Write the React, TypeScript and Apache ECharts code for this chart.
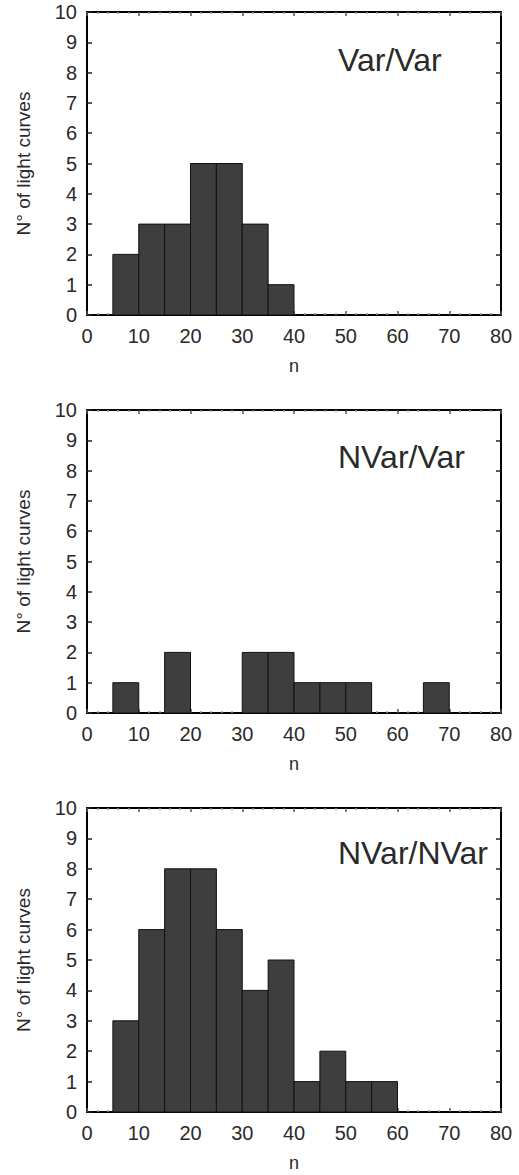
import React, { useEffect, useRef } from "react";
import * as echarts from "echarts";

const binStarts1 = [5, 10, 15, 20, 25, 30, 35];
const counts1 = [2, 3, 3, 5, 5, 3, 1];
const binStarts2 = [5, 15, 30, 35, 40, 45, 50, 65];
const counts2 = [1, 2, 2, 2, 1, 1, 1, 1];
const binStarts3 = [5, 10, 15, 20, 25, 30, 35, 40, 45, 50, 55];
const counts3 = [3, 6, 8, 8, 6, 4, 5, 1, 2, 1, 1];
const binWidth = 5;
const panelTitles = ["Var/Var", "NVar/Var", "NVar/NVar"];
const xTicks = [0, 10, 20, 30, 40, 50, 60, 70, 80];
const yTicks = [0, 1, 2, 3, 4, 5, 6, 7, 8, 9, 10];
const xName = "n";
const yName = "N° of light curves";

const FONT = "'Liberation Sans', Arial, sans-serif";

export default function App() {
  const ref = useRef<HTMLDivElement>(null);
  useEffect(() => {
    document.body.style.margin = "0";
    if (!ref.current) return;
    const chart = echarts.init(ref.current, undefined, { renderer: "svg" });
    const grids = [
      { left: 87, right: 18, top: 12, height: 303 },
      { left: 87, right: 18, top: 410, height: 303 },
      { left: 87, right: 18, top: 808, height: 304 },
    ];
    const titleY = [60, 457, 853];
    const datasets = [
      [binStarts1, counts1],
      [binStarts2, counts2],
      [binStarts3, counts3],
    ];
    const xAxes: any[] = [];
    const yAxes: any[] = [];
    const series: any[] = [];
    grids.forEach((g, i) => {
      xAxes.push({
        type: "value",
        gridIndex: i,
        position: "bottom",
        min: xTicks[0],
        max: xTicks[xTicks.length - 1],
        interval: 10,
        name: xName,
        nameLocation: "middle",
        nameGap: 42,
        nameTextStyle: { fontFamily: FONT, fontSize: 18, color: "#2a2a2a" },
        axisLine: { show: true, onZero: false, lineStyle: { color: "#000", width: 2 } },
        axisTick: { show: true, inside: true, length: 4, lineStyle: { color: "#555", width: 1.5 } },
        minorTick: { show: true, splitNumber: 5, length: 2, lineStyle: { color: "#999", width: 1.5 } },
        axisLabel: { show: true, margin: 11, fontFamily: FONT, fontSize: 20, color: "#2a2a2a" },
        splitLine: { show: false },
      });
      xAxes.push({
        type: "value",
        gridIndex: i,
        position: "top",
        min: xTicks[0],
        max: xTicks[xTicks.length - 1],
        interval: 10,
        axisLine: { show: true, onZero: false, lineStyle: { color: "#000", width: 2 } },
        axisTick: { show: true, inside: true, length: 4, lineStyle: { color: "#555", width: 1.5 } },
        minorTick: { show: true, splitNumber: 5, length: 2, lineStyle: { color: "#999", width: 1.5 } },
        axisLabel: { show: false },
        splitLine: { show: false },
      });
      yAxes.push({
        type: "value",
        gridIndex: i,
        position: "left",
        min: yTicks[0],
        max: yTicks[yTicks.length - 1],
        interval: 1,
        name: yName,
        nameLocation: "middle",
        nameGap: 54,
        nameRotate: 90,
        nameTextStyle: { fontFamily: FONT, fontSize: 19, color: "#2a2a2a" },
        axisLine: { show: true, onZero: false, lineStyle: { color: "#000", width: 2 } },
        axisTick: { show: true, inside: true, length: 5, lineStyle: { color: "#222", width: 1.5 } },
        axisLabel: { show: true, margin: 10, fontFamily: FONT, fontSize: 20, color: "#2a2a2a" },
        splitLine: { show: false },
      });
      yAxes.push({
        type: "value",
        gridIndex: i,
        position: "right",
        min: yTicks[0],
        max: yTicks[yTicks.length - 1],
        interval: 1,
        axisLine: { show: true, onZero: false, lineStyle: { color: "#000", width: 2 } },
        axisTick: { show: true, inside: true, length: 5, lineStyle: { color: "#222", width: 1.5 } },
        axisLabel: { show: false },
        splitLine: { show: false },
      });
      const [starts, counts] = datasets[i];
      series.push({
        type: "custom",
        xAxisIndex: i * 2,
        yAxisIndex: i * 2,
        encode: { x: [0, 1], y: 2 },
        data: starts.map((s, k) => [s, s + binWidth, counts[k]]),
        renderItem: (params: any, api: any) => {
          const p0 = api.coord([api.value(0), 0]);
          const p1 = api.coord([api.value(1), api.value(2)]);
          return {
            type: "rect",
            shape: { x: p0[0], y: p1[1], width: p1[0] - p0[0], height: p0[1] - p1[1] },
            style: { fill: "#3e3e3e", stroke: "#111", lineWidth: 1 },
          };
        },
      });
    });
    chart.setOption({
      animation: false,
      backgroundColor: "#fff",
      grid: grids,
      xAxis: xAxes,
      yAxis: yAxes,
      series,
      graphic: panelTitles.map((t, i) => ({
        type: "text",
        x: 338,
        y: titleY[i],
        style: {
          text: t,
          font: `32px ${FONT}`,
          fill: "#2a2a2a",
          verticalAlign: "middle",
          align: "left",
        },
      })),
    });
    return () => chart.dispose();
  }, []);
  return <div ref={ref} style={{ width: 519, height: 1175 }} />;
}
